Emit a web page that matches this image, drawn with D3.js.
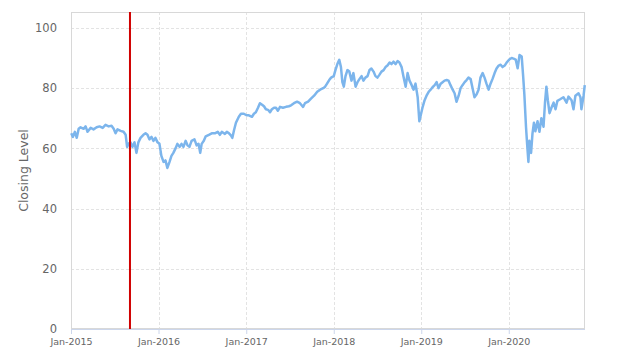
<!DOCTYPE html>
<html><head><meta charset="utf-8">
<script src="https://cdn.jsdelivr.net/npm/d3@7"></script>
<style>body{margin:0;background:#fff}svg{display:block;font-family:"DejaVu Sans",sans-serif}</style>
</head><body><div id="chart"></div>
<script>
const dates = ["2015-01-02","2015-01-09","2015-01-17","2015-01-25","2015-02-02","2015-02-10","2015-02-23","2015-03-03","2015-03-11","2015-03-24","2015-04-05","2015-04-18","2015-04-30","2015-05-13","2015-05-25","2015-06-07","2015-06-19","2015-06-28","2015-07-06","2015-07-14","2015-07-27","2015-08-08","2015-08-17","2015-08-23","2015-08-29","2015-09-06","2015-09-14","2015-09-23","2015-10-01","2015-10-09","2015-10-18","2015-10-30","2015-11-08","2015-11-16","2015-11-24","2015-12-03","2015-12-11","2015-12-19","2015-12-28",
"2016-01-05","2016-01-13","2016-01-22","2016-01-30","2016-02-07","2016-02-16","2016-02-24","2016-03-03","2016-03-12","2016-03-20","2016-03-29","2016-04-06","2016-04-14","2016-04-23","2016-05-01","2016-05-09","2016-05-18","2016-05-30","2016-06-08","2016-06-16","2016-06-23","2016-06-29","2016-07-08","2016-07-16","2016-07-29","2016-08-10","2016-08-23","2016-09-04","2016-09-13","2016-09-21","2016-10-04","2016-10-12","2016-10-21","2016-10-29","2016-11-04","2016-11-11","2016-11-19","2016-12-01","2016-12-10","2016-12-22",
"2017-01-02","2017-01-12","2017-01-25","2017-02-02","2017-02-10","2017-02-19","2017-02-27","2017-03-08","2017-03-16","2017-03-24","2017-04-02","2017-04-10","2017-04-18","2017-04-27","2017-05-05","2017-05-13","2017-05-22","2017-06-03","2017-06-16","2017-06-28","2017-07-07","2017-07-19","2017-08-01","2017-08-13","2017-08-26","2017-09-03","2017-09-16","2017-09-28","2017-10-11","2017-10-24","2017-11-05","2017-11-18","2017-11-26","2017-12-04","2017-12-13","2017-12-21",
"2018-01-01","2018-01-08","2018-01-16","2018-01-24","2018-01-31","2018-02-06","2018-02-12","2018-02-19","2018-02-27","2018-03-07","2018-03-16","2018-03-24","2018-04-02","2018-04-10","2018-04-18","2018-04-27","2018-05-05","2018-05-13","2018-05-22","2018-05-30","2018-06-07","2018-06-16","2018-06-24","2018-07-02","2018-07-11","2018-07-19","2018-07-28","2018-08-05","2018-08-13","2018-08-22","2018-08-30","2018-09-07","2018-09-16","2018-09-24","2018-10-02","2018-10-11","2018-10-19","2018-10-28","2018-11-05","2018-11-13","2018-11-22","2018-11-30","2018-12-08","2018-12-17","2018-12-24",
"2019-01-07","2019-01-15","2019-01-23","2019-02-01","2019-02-09","2019-02-17","2019-02-26","2019-03-06","2019-03-14","2019-03-23","2019-03-31","2019-04-08","2019-04-17","2019-04-25","2019-05-03","2019-05-12","2019-05-20","2019-05-28","2019-06-06","2019-06-14","2019-06-22","2019-07-01","2019-07-09","2019-07-17","2019-07-26","2019-08-03","2019-08-11","2019-08-20","2019-08-28","2019-09-05","2019-09-14","2019-09-22","2019-09-30","2019-10-09","2019-10-17","2019-10-25","2019-11-03","2019-11-11","2019-11-20","2019-11-28","2019-12-06","2019-12-15","2019-12-23",
"2020-01-03","2020-01-13","2020-01-21","2020-01-30","2020-02-07","2020-02-15","2020-02-24","2020-03-01","2020-03-06","2020-03-13","2020-03-18","2020-03-23","2020-03-27","2020-04-03","2020-04-09","2020-04-15","2020-04-21","2020-04-30","2020-05-08","2020-05-16","2020-05-25","2020-05-31","2020-06-06","2020-06-12","2020-06-19","2020-06-27","2020-07-06","2020-07-14","2020-07-22","2020-08-04","2020-08-16","2020-08-29","2020-09-06","2020-09-19","2020-09-27","2020-10-05","2020-10-18","2020-10-26","2020-10-30","2020-11-08","2020-11-13"];
const closing = [65,63.8,65.5,63.5,66.5,67,66.5,67.3,65.5,66.8,66.3,67,67.3,66.8,67.8,67.3,67.5,66.5,65,66.3,65.8,65.5,64.5,60.5,61.5,62,60.5,62,58.5,62,63.5,64.5,65,64.5,63,63.8,62.5,63.5,62,
61.5,57.5,55.5,56,53.5,55.5,57.5,58.5,60,61.5,60.5,61.5,60.5,62.5,61,60.5,62.5,63,61,61.5,58.5,61.5,62.5,64,64.5,65,65,65.5,64.5,65.5,64.8,65.5,65,64.3,63.5,66,68.5,70.5,71.5,71.5,
71,71,70.5,71.5,72,73.5,75,74.5,74,73,72.8,72,73,73.5,73.5,72.5,73.8,73.5,73.8,74,74.3,75,75.5,75,73.8,75,75.5,76.5,77.5,78.8,79.5,80,80.5,81.5,82.7,83.5,
84,86,88,89.4,87,82,80.5,84,86,85.5,82.5,85,80.5,82,83,84,82.5,83.5,84,86,86.5,85.5,84,83.5,84.5,85.5,86,87,87.5,88.5,88,88.8,88,89,88.5,87,83.8,80.5,85,82.5,81,79.5,81.5,77,69,
73.8,76,77.5,78.8,79.5,80.3,81,82,80,81.5,82,82.5,82.7,82.5,81,79.5,78.3,75.5,77.5,80,81,82,82.7,83.5,83,80,77,78,79.5,83.5,85,83.5,81.5,79.5,81.5,83,85,86.5,87.5,87.8,87,87.5,88.5,
89.5,90,89.8,89.5,86.6,91,90.5,84,78,67,61,55.5,62.5,58.5,65,68.5,65.7,69,65.5,70,67.2,75,80.5,76,71.7,73.5,75.2,73,75.8,76.4,77,75.2,77.2,76,73,77.5,78.3,77,73,77.5,81];
const yTicks = [0,20,40,60,80,100];
const xTickLabels = ["Jan-2015","Jan-2016","Jan-2017","Jan-2018","Jan-2019","Jan-2020"];
const markerDate = "2015-09-04";
const yTitle = "Closing Level";

const W = 624, H = 362;
const m = {left:71, right:39, top:12, bottom:33};
const iw = W - m.left - m.right, ih = H - m.top - m.bottom;
const parse = d3.timeParse("%Y-%m-%d");
const data = dates.map((d,i)=>({date:parse(d), v:closing[i]}));
const x = d3.scaleTime().domain([parse("2015-01-01"), parse("2020-11-14")]).range([0, iw]);
const y = d3.scaleLinear().domain([0,105.3]).range([ih,0]);
const tickDates = xTickLabels.map(s=>d3.timeParse("%b-%Y")(s));

const svg = d3.select("#chart").append("svg").attr("width",W).attr("height",H);
const g = svg.append("g").attr("transform",`translate(${m.left},${m.top})`);

// grid
g.append("g").selectAll("line").data(yTicks).join("line")
  .attr("x1",0).attr("x2",iw).attr("y1",d=>Math.round(y(d))+0.5).attr("y2",d=>Math.round(y(d))+0.5)
  .attr("stroke","#e3e3e3").attr("stroke-dasharray","3,2");
g.append("g").selectAll("line").data(tickDates).join("line")
  .attr("x1",d=>Math.round(x(d))+0.5).attr("x2",d=>Math.round(x(d))+0.5).attr("y1",0).attr("y2",ih)
  .attr("stroke","#e3e3e3").attr("stroke-dasharray","3,2");

// plot border
g.append("rect").attr("x",0.5).attr("y",0.5).attr("width",iw-1).attr("height",ih-1)
  .attr("fill","none").attr("stroke","#d8d8d8");

// x axis
const xa = g.append("g").attr("transform",`translate(0,${ih})`)
  .call(d3.axisBottom(x).tickValues(tickDates).tickFormat((d,i)=>xTickLabels[i]).tickSize(5).tickPadding(4));
xa.select(".domain").attr("stroke","#ccd6eb").attr("d",`M0.5,0.5H${iw}`);
xa.selectAll(".tick line").attr("stroke","#ccd6eb");
xa.selectAll("text").attr("fill","#666").style("font-size","9.5px").style("font-family","DejaVu Sans");

// y axis
const ya = g.append("g").call(d3.axisLeft(y).tickValues(yTicks).tickSize(0).tickPadding(14));
ya.select(".domain").remove();
ya.selectAll("text").attr("fill","#666").style("font-size","11.5px").style("font-family","DejaVu Sans");

svg.append("text").attr("transform",`translate(28,${m.top+ih/2}) rotate(-90)`)
  .attr("text-anchor","middle").attr("fill","#666").style("font-size","12.5px").text(yTitle);

// line
g.append("path").datum(data).attr("fill","none").attr("stroke","#7cb5ec").attr("stroke-width",2.5)
  .attr("stroke-linejoin","round")
  .attr("d", d3.line().x(d=>x(d.date)).y(d=>y(d.v)));

// red marker
const mx = x(parse(markerDate));
g.append("line").attr("x1",mx).attr("x2",mx).attr("y1",0).attr("y2",ih)
  .attr("stroke","#d00000").attr("stroke-width",2);
</script></body></html>
